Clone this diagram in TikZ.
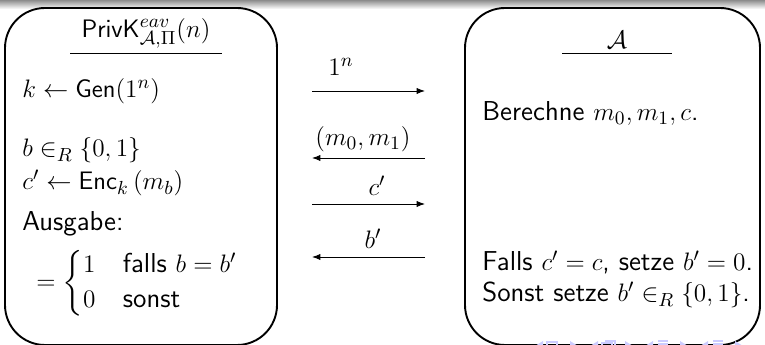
\documentclass[tikz,border=0pt]{standalone}
\usepackage{amsmath,amssymb}
\usetikzlibrary{arrows.meta}
\tikzset{
  box/.style={draw=black, line width=0.9pt, rounded corners=19pt},
  msg/.style={line width=0.45pt, -{Latex[length=4pt,width=3pt]}},
  txt/.style={anchor=base west, inner sep=0pt, font=\fontsize{13}{15.5}\selectfont\sffamily},
  lbl/.style={anchor=base, inner sep=0pt, font=\fontsize{13}{15.5}\selectfont\sffamily},
  uline/.style={line width=0.45pt},
  navsym/.style={fill=blue!20!white, draw=none},
  navline/.style={draw=blue!20!white, line width=0.6pt}
}
\begin{document}
\begin{tikzpicture}[x=0.475pt,y=-0.475pt]
\useasboundingbox (0,0) rectangle (765,345);
\shade[top color=black!45, bottom color=white] (0,0) rectangle (765,9);
% boxes
\draw[box] (5,8) rectangle (277,345);
\draw[box] (465,8) rectangle (760,345);
% left box content
\node[lbl] (title) at (146,38) {$\mathsf{PrivK}^{eav}_{\mathcal{A},\Pi}(n)$};
\coordinate (tl1) at (70,53); \coordinate (tl2) at (222,53);
\draw[uline] (tl1) -- (tl2);
\node[txt] (gen) at (22,98) {$k\leftarrow\mathsf{Gen}(1^n)$};
\node[txt] (bsel) at (22,157) {$b\in_R\{0,1\}$};
\node[txt] (enc) at (22,190) {$c'\leftarrow\mathsf{Enc}_k\left(m_b\right)$};
\node[txt] (aus) at (22,231) {Ausgabe:};
\node[anchor=west, inner sep=0pt, font=\fontsize{13}{14}\selectfont\sffamily] (cases) at (36,283)
  {\renewcommand{\arraystretch}{1}$=\begin{cases}1 & \text{falls } b=b'\\ 0 & \text{sonst}\end{cases}$};
% right box content
\node[lbl] (adv) at (617,49) {$\mathcal{A}$};
\coordinate (tr1) at (562,53); \coordinate (tr2) at (672,53);
\draw[uline] (tr1) -- (tr2);
\node[txt] (ber) at (482,121) {Berechne $m_0,m_1,c$.};
\node[txt] (falls) at (482,271) {Falls $c'=c$, setze $b'=0$.};
\node[txt] (sonst) at (482,302) {Sonst setze $b'\in_R\{0,1\}$.};
% messages
\coordinate (a1l) at (312,91);  \coordinate (a1r) at (425,91);
\coordinate (a2l) at (312,158); \coordinate (a2r) at (425,158);
\coordinate (a3l) at (312,204); \coordinate (a3r) at (425,204);
\coordinate (a4l) at (312,257); \coordinate (a4r) at (425,257);
\draw[msg] (a1l) -- (a1r);
\draw[msg] (a2r) -- (a2l);
\draw[msg] (a3l) -- (a3r);
\draw[msg] (a4r) -- (a4l);
\node[lbl] (m1) at (341,76) {$1^n$};
\node[lbl] (m2) at (363,146) {$(m_0,m_1)$};
\node[lbl] (m3) at (377,196) {$c'$};
\node[lbl] (m4) at (373,249) {$b'$};
% navigation symbols (mostly cut off)
\foreach \x in {535,590,645,700} {
  \fill[navsym] (\x,346) -- (\x+8,341) -- (\x+8,351) -- cycle;
}
\foreach \x in {570,625,680,735} {
  \fill[navsym] (\x+8,346) -- (\x,341) -- (\x,351) -- cycle;
}
\draw[navline] (547,342) rectangle (557,352);
\draw[navline] (602,343) rectangle (612,352) (605,341) -- (615,341) -- (615,349);
\draw[navline] (658,341) -- (668,341) (658,344) -- (668,344);
\draw[navline] (713,341) -- (723,341) (713,344) -- (723,344);
\end{tikzpicture}
\end{document}
